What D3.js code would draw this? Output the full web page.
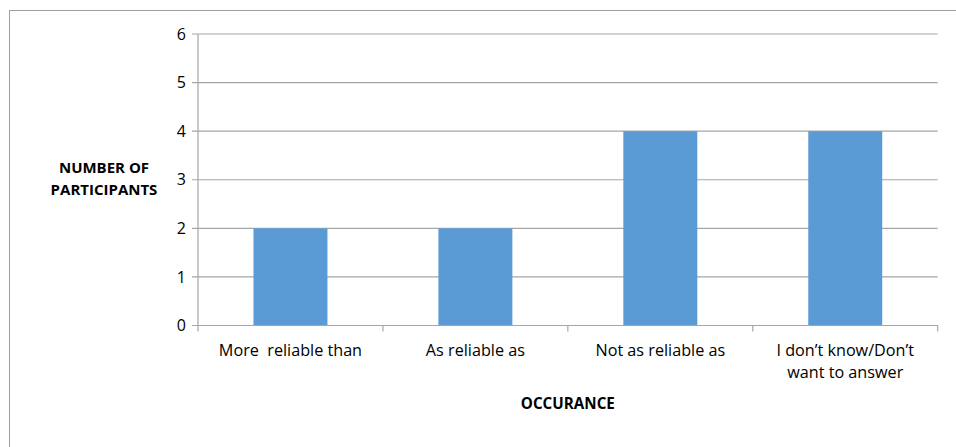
<!DOCTYPE html>
<html><head><meta charset="utf-8">
<script src="https://cdn.jsdelivr.net/npm/d3@7"></script>
<style>body{margin:0;background:#fff}svg{display:block}text{font-family:"Open Sans",sans-serif;white-space:pre}</style>
</head><body><svg id="c" width="956" height="447"></svg>
<script>
const categories = [["More  reliable than"], ["As reliable as"], ["Not as reliable as"], ["I don\u2019t know/Don\u2019t", "want to answer"]];
const values = [2, 2, 4, 4];
const yTicks = [0, 1, 2, 3, 4, 5, 6];
const yTitle = ["NUMBER OF", "PARTICIPANTS"];
const xTitle = "OCCURANCE";

const svg = d3.select("#c");
const L = 198, R = 937.7, T = 34, B = 325.5;
svg.append("rect").attr("x", 9.5).attr("y", 10.5).attr("width", 960).attr("height", 450)
  .attr("fill", "none").attr("stroke", "#a0a0a0").attr("stroke-width", 1);

const x = d3.scaleBand().domain(d3.range(categories.length)).range([L, R]).paddingInner(0.6).paddingOuter(0.3);
const xb = d3.scaleBand().domain(d3.range(categories.length)).range([L, R]);
const y = d3.scaleLinear().domain([0, 6]).range([B, T]);

svg.append("g").selectAll("line").data(yTicks).join("line")
  .attr("x1", L - 6).attr("x2", R).attr("y1", d => y(d)).attr("y2", d => y(d))
  .attr("stroke", "#a6a6a6").attr("stroke-width", 1.2);
svg.append("line").attr("x1", L).attr("x2", L).attr("y1", T).attr("y2", B)
  .attr("stroke", "#a6a6a6").attr("stroke-width", 1.2);
svg.append("g").selectAll("text").data(yTicks).join("text")
  .attr("x", L - 12).attr("y", d => y(d)).attr("dy", "0.35em").attr("text-anchor", "end")
  .attr("font-size", 16).attr("fill", "#000").text(d => d);

svg.append("g").selectAll("rect").data(values).join("rect")
  .attr("x", (d, i) => x(i)).attr("width", x.bandwidth())
  .attr("y", d => y(d)).attr("height", d => B - y(d)).attr("fill", "#5b9bd5");

const bounds = d3.range(categories.length + 1).map(i => i < categories.length ? xb(i) : R);
svg.append("g").selectAll("line").data(bounds).join("line")
  .attr("x1", d => d).attr("x2", d => d).attr("y1", B).attr("y2", B + 6)
  .attr("stroke", "#a6a6a6").attr("stroke-width", 1.2);
svg.append("line").attr("x1", L).attr("x2", R).attr("y1", B).attr("y2", B)
  .attr("stroke", "#a6a6a6").attr("stroke-width", 1.2);

const cl = svg.append("g").selectAll("text").data(categories).join("text")
  .attr("text-anchor", "middle").attr("font-size", 16.2).attr("fill", "#000");
cl.each(function(lines, i) {
  d3.select(this).selectAll("tspan").data(lines).join("tspan")
    .attr("x", xb(i) + xb.bandwidth() / 2).attr("y", (d, j) => 356 + j * 22).text(d => d);
});

svg.append("text").attr("x", (L + R) / 2).attr("y", 409).attr("text-anchor", "middle")
  .attr("font-size", 15.2).attr("font-weight", "bold").text(xTitle);
svg.append("text").attr("text-anchor", "middle").attr("font-size", 15).attr("font-weight", "bold")
  .selectAll("tspan").data(yTitle).join("tspan").attr("x", 104).attr("y", (d, j) => 173 + j * 22).text(d => d);
</script></body></html>
